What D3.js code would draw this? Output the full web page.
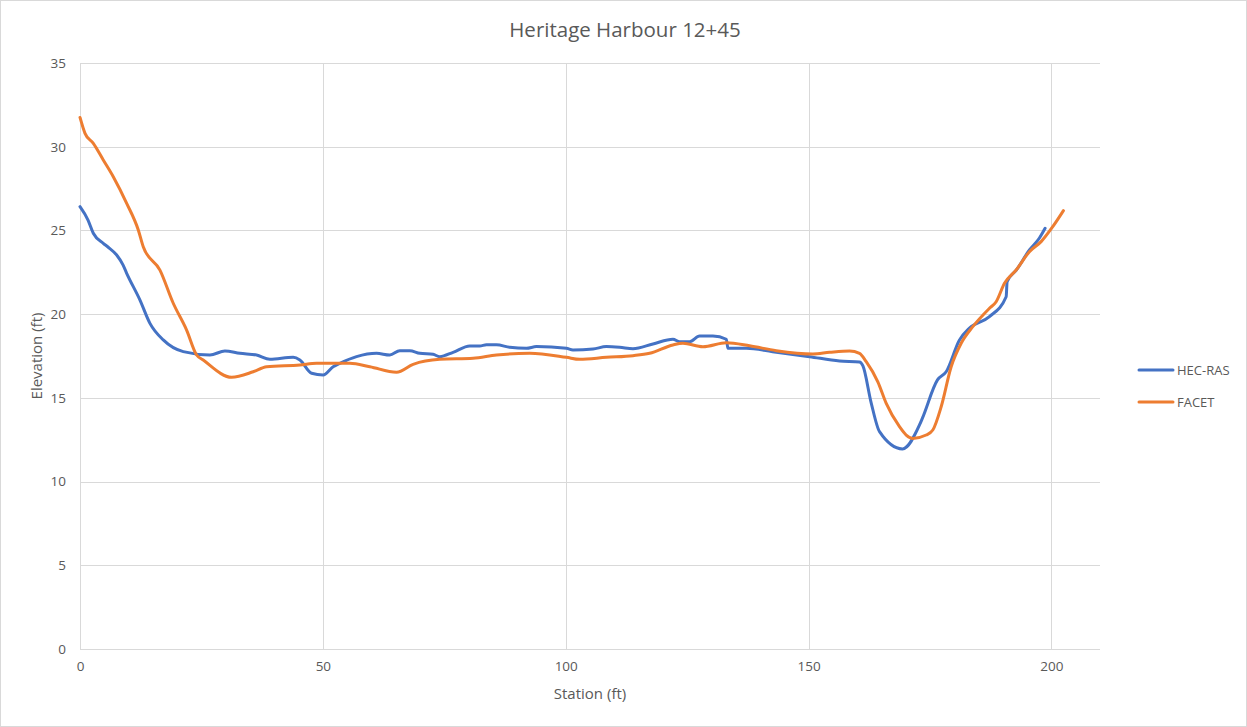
<!DOCTYPE html>
<html><head><meta charset="utf-8">
<script src="https://cdn.jsdelivr.net/npm/d3@7"></script>
<style>
html,body{margin:0;padding:0;background:#fff;}
svg{display:block;font-family:"Open Sans",sans-serif;}
</style></head>
<body><svg id="c" width="1247" height="727"></svg>
<script>
const title = "Heritage Harbour 12+45";
const xTitle = "Station (ft)";
const yTitle = "Elevation (ft)";
const xTicks = [0, 50, 100, 150, 200];
const yTicks = [0, 5, 10, 15, 20, 25, 30, 35];
const seriesNames = ["HEC-RAS", "FACET"];
const seriesColors = ["#4472C4", "#ED7D31"];

const hecStation = [0,1.65,2.74,4.79,5.76,7.55,8.85,9.61,12.35,14.4,17.14,21.26,26.75,29.84,32.92,36.36,39.09,43.89,45.27,47.68,50.06,52.12,53.5,56.93,61.05,63.79,65.84,67.9,69.96,72.7,74.07,76.81,80.25,82.3,83.68,85.74,88.48,91.91,93.97,100.14,101.5,105.62,108.37,111.11,113.85,117.96,122.08,123.46,125.51,127.57,130.31,133.07,133.4,137.18,142.59,150.21,156.38,160.49,161.17,162.9,164.61,169.34,172.84,173.46,176.54,178.33,181.07,183.13,187.24,190.68,190.88,192.8,195.47,197.53,198.7];
const hecElev = [26.42,25.62,24.83,24.23,24.01,23.53,22.94,22.44,20.84,19.45,18.46,17.76,17.56,17.8,17.66,17.56,17.3,17.42,17.26,16.47,16.37,16.86,17.06,17.46,17.66,17.56,17.82,17.82,17.66,17.6,17.46,17.72,18.1,18.1,18.17,18.17,18.02,17.96,18.06,17.96,17.86,17.92,18.06,18.02,17.94,18.22,18.5,18.35,18.35,18.69,18.69,18.5,17.96,17.96,17.76,17.46,17.2,17.14,16.92,14.69,12.98,11.95,13.38,13.8,16.07,16.56,18.46,19.17,19.85,21.04,21.94,22.64,23.83,24.55,25.13];

const facetStation = [0,1.03,2.74,4.79,6.85,9.61,12.0,13.02,16.46,19.2,21.95,24.01,25.37,31.21,35.66,38.42,45.27,48.7,55.56,59.67,65.16,68.58,74.07,80.93,85.74,92.59,100.14,102.88,108.37,113.85,117.28,122.08,124.13,128.25,133.07,137.86,143.35,150.88,154.32,158.44,160.49,161.87,164.26,165.99,168.72,170.1,171.46,174.22,175.58,177.3,179.36,181.42,183.81,187.24,188.62,190.33,192.74,195.47,197.88,200.27,202.47];
const facetElev = [31.75,30.8,30.2,29.21,28.21,26.62,25.03,24.03,22.63,20.65,19.05,17.56,17.26,16.23,16.56,16.86,16.96,17.06,17.06,16.86,16.53,17.0,17.3,17.36,17.56,17.66,17.42,17.3,17.42,17.52,17.66,18.16,18.26,18.05,18.29,18.11,17.82,17.62,17.72,17.8,17.66,17.16,15.96,14.67,13.28,12.78,12.58,12.78,13.08,14.47,16.86,18.26,19.25,20.35,20.74,21.84,22.64,23.73,24.33,25.22,26.18];

const W = 1247, H = 727;
const m = {left: 80, right: 1100, top: 63, bottom: 649};
const svg = d3.select("#c");
const textCol = "#595959", gridCol = "#d9d9d9";

svg.append("rect").attr("x",0.5).attr("y",0.5).attr("width",W-1).attr("height",H-1)
  .attr("fill","#fff").attr("stroke","#d9d9d9");

const x = d3.scaleLinear().domain([0,210]).range([m.left, m.right]);
const y = d3.scaleLinear().domain([0,35]).range([m.bottom, m.top]);

// grid
const g = svg.append("g");
g.selectAll(".hg").data(yTicks).join("line")
  .attr("x1", m.left).attr("x2", m.right)
  .attr("y1", d => Math.round(y(d))+0.5).attr("y2", d => Math.round(y(d))+0.5)
  .attr("stroke", gridCol).attr("stroke-width", 1);
g.selectAll(".vg").data(xTicks).join("line")
  .attr("y1", m.top).attr("y2", m.bottom)
  .attr("x1", d => Math.round(x(d))+0.5).attr("x2", d => Math.round(x(d))+0.5)
  .attr("stroke", gridCol).attr("stroke-width", 1);

// axes
const xAxis = d3.axisBottom(x).tickValues(xTicks).tickSize(0).tickPadding(12);
const yAxis = d3.axisLeft(y).tickValues(yTicks).tickSize(0).tickPadding(14);
const xa = svg.append("g").attr("transform", `translate(0,${m.bottom})`).call(xAxis);
const ya = svg.append("g").attr("transform", `translate(${m.left},0)`).call(yAxis);
[xa, ya].forEach(a => {
  a.select(".domain").remove();
  a.selectAll("text").attr("fill", textCol).style("font-size","13.5px").style("font-family",'"Open Sans",sans-serif');
});

// lines
const series = [
  {name: seriesNames[0], color: seriesColors[0], xs: hecStation, ys: hecElev},
  {name: seriesNames[1], color: seriesColors[1], xs: facetStation, ys: facetElev}
];
const line = d3.line().x(d => x(d[0])).y(d => y(d[1])).curve(d3.curveMonotoneX);
series.forEach(s => {
  svg.append("path").datum(s.xs.map((v,i) => [v, s.ys[i]]))
    .attr("d", line).attr("fill","none").attr("stroke", s.color)
    .attr("stroke-width", 3).attr("stroke-linejoin","round").attr("stroke-linecap","round");
});

// titles
svg.append("text").attr("x", 625).attr("y", 37).attr("text-anchor","middle")
  .attr("fill", textCol).style("font-size","20.5px").text(title);
svg.append("text").attr("x", (m.left+m.right)/2).attr("y", 699).attr("text-anchor","middle")
  .attr("fill", textCol).style("font-size","15px").text(xTitle);
svg.append("text").attr("transform", `translate(42,${(m.top+m.bottom)/2}) rotate(-90)`)
  .attr("text-anchor","middle").attr("fill", textCol).style("font-size","15px").text(yTitle);

// legend
const lg = svg.append("g");
series.forEach((s,i) => {
  const ly = 370 + i*32;
  lg.append("line").attr("x1",1139).attr("x2",1173).attr("y1",ly).attr("y2",ly)
    .attr("stroke", s.color).attr("stroke-width",3).attr("stroke-linecap","round");
  lg.append("text").attr("x",1177).attr("y",ly).attr("dy","0.35em")
    .attr("fill", textCol).style("font-size","13px").text(s.name);
});
</script></body></html>
